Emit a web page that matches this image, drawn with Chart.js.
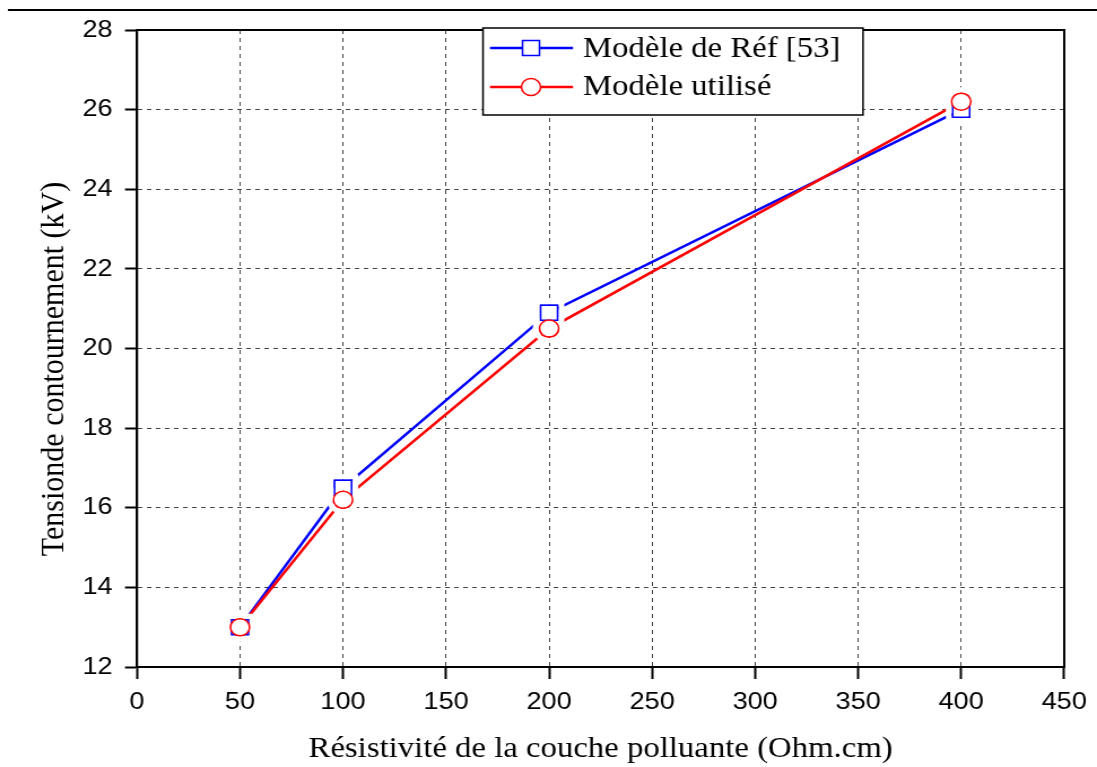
<!DOCTYPE html>
<html><head><meta charset="utf-8">
<script src="https://cdn.jsdelivr.net/npm/chart.js@4.4.1/dist/chart.umd.min.js"></script>
<style>
html,body{margin:0;padding:0;background:#fff;overflow:hidden;}
#wrap{width:971px;height:767px;transform:scaleX(1.129763);transform-origin:0 0;}
canvas{display:block;}
</style></head><body>
<div id="wrap"><canvas id="c" width="971" height="767" style="width:971px;height:767px"></canvas></div>
<script>
const resistivite = [50, 100, 200, 400];
const tensionRef = [13.0, 16.5, 20.9, 26.0];
const tensionUtilise = [13.0, 16.2, 20.5, 26.2];
const seriesNames = ['Modèle de Réf [53]', 'Modèle utilisé'];
const seriesColors = ['#0000ff', '#ff0000'];
const seriesMarkers = ['rect', 'circle'];
const xRange = [0, 450, 50];
const yRange = [12, 28, 2];
const xTitle = 'Résistivité de la couche polluante (Ohm.cm)';
const yTitle = 'Tensionde contournement (kV)';

const S = 1097 / 971;
const X = v => v / S;

function shapePath(ctx, style, x, y, grow) {
  ctx.beginPath();
  if (style === 'rect') {
    const h = 7.5 + grow;
    ctx.rect(x - h, y - h, 2 * h, 2 * h);
  } else {
    ctx.arc(x, y, 8.5 + grow, 0, Math.PI * 2);
  }
}

function drawMarker(ctx, style, color, x, y) {
  ctx.save();
  ctx.setLineDash([]);
  ctx.fillStyle = '#fff';
  ctx.strokeStyle = color;
  ctx.lineWidth = 1.5;
  shapePath(ctx, style, x, y, 0);
  ctx.fill();
  ctx.stroke();
  ctx.restore();
}

const markerGaps = {
  id: 'markerGaps',
  afterDatasetsDraw(chart) {
    const ctx = chart.ctx;
    ctx.save();
    ctx.setLineDash([]);
    chart.data.datasets.forEach((ds, di) => {
      chart.getDatasetMeta(di).data.forEach(pt => {
        ctx.strokeStyle = '#fff';
        ctx.lineWidth = 5;
        shapePath(ctx, seriesMarkers[di], pt.x, pt.y, 3.5);
        ctx.stroke();
      });
    });
    chart.data.datasets.forEach((ds, di) => {
      chart.getDatasetMeta(di).data.forEach(pt => {
        drawMarker(ctx, seriesMarkers[di], seriesColors[di], pt.x, pt.y);
      });
    });
    ctx.restore();
  }
};

const decor = {
  id: 'decor',
  afterDraw(chart) {
    const ctx = chart.ctx;
    const a = chart.chartArea;
    ctx.save();
    ctx.setLineDash([]);
    ctx.strokeStyle = '#000';
    ctx.lineWidth = 2;
    ctx.strokeRect(a.left, a.top, a.right - a.left, a.bottom - a.top);
    ctx.fillStyle = '#000';
    ctx.fillRect(X(8), 9, 971, 2);
    ctx.font = '29px "Liberation Serif"';
    ctx.textAlign = 'center';
    ctx.textBaseline = 'alphabetic';
    ctx.fillText(xTitle, (a.left + a.right) / 2, 757);
    ctx.save();
    ctx.translate(X(63), 369);
    ctx.rotate(-Math.PI / 2);
    ctx.font = '30px "Liberation Serif"';
    ctx.fillText(yTitle, 0, 0);
    ctx.restore();
    const lx = X(483), ly = 28, lw = X(863) - X(483), lh = 87;
    ctx.fillStyle = '#fff';
    ctx.fillRect(lx, ly, lw, lh);
    ctx.strokeStyle = '#000';
    ctx.lineWidth = 1.5;
    ctx.strokeRect(lx, ly, lw, lh);
    const rows = [48, 87];
    const bases = [57, 95];
    for (let i = 0; i < 2; i++) {
      ctx.strokeStyle = seriesColors[i];
      ctx.lineWidth = 2.5;
      ctx.beginPath();
      ctx.moveTo(X(490), rows[i]);
      ctx.lineTo(X(573), rows[i]);
      ctx.stroke();
      drawMarker(ctx, seriesMarkers[i], seriesColors[i], X(531), rows[i]);
      ctx.fillStyle = '#000';
      ctx.font = '29px "Liberation Serif"';
      ctx.textAlign = 'left';
      ctx.fillText(seriesNames[i], X(583), bases[i]);
    }
    ctx.restore();
  }
};

new Chart(document.getElementById('c'), {
  type: 'line',
  data: {
    datasets: [
      {
        label: seriesNames[0],
        data: resistivite.map((x, i) => ({x: x, y: tensionRef[i]})),
        borderColor: seriesColors[0],
        backgroundColor: '#fff',
        borderWidth: 2.5,
        pointStyle: seriesMarkers[0],
        pointRadius: 10.6,
        pointBorderWidth: 1.5,
        pointBorderColor: seriesColors[0],
        pointBackgroundColor: '#fff',
        tension: 0,
        order: 2
      },
      {
        label: seriesNames[1],
        data: resistivite.map((x, i) => ({x: x, y: tensionUtilise[i]})),
        borderColor: seriesColors[1],
        backgroundColor: '#fff',
        borderWidth: 2.5,
        pointStyle: seriesMarkers[1],
        pointRadius: 8.5,
        pointBorderWidth: 1.5,
        pointBorderColor: seriesColors[1],
        pointBackgroundColor: '#fff',
        tension: 0,
        order: 1
      }
    ]
  },
  options: {
    responsive: false,
    animation: false,
    devicePixelRatio: 1,
    events: [],
    layout: {padding: {top: 30, right: 971 - X(1066), left: 0, bottom: 0}},
    plugins: {legend: {display: false}, tooltip: {enabled: false}},
    scales: {
      x: {
        type: 'linear',
        min: xRange[0], max: xRange[1],
        ticks: {stepSize: xRange[2], font: {family: 'Liberation Sans', size: 24}, color: '#000', padding: 9, maxRotation: 0, autoSkip: false},
        grid: {color: '#444', lineWidth: 1, tickColor: '#000', tickWidth: 2, tickLength: 12},
        border: {display: true, color: '#000', width: 2, dash: [4, 4]},
        afterFit: s => { s.height = 100; }
      },
      y: {
        type: 'linear',
        min: yRange[0], max: yRange[1],
        ticks: {stepSize: yRange[2], font: {family: 'Liberation Sans', size: 24}, color: '#000', padding: 11, autoSkip: false},
        grid: {color: '#444', lineWidth: 1, tickColor: '#000', tickWidth: 2, tickLength: X(12)},
        border: {display: true, color: '#000', width: 2, dash: [4, 4]},
        afterFit: s => { s.width = X(137); }
      }
    }
  },
  plugins: [markerGaps, decor]
});
</script>
</body></html>
